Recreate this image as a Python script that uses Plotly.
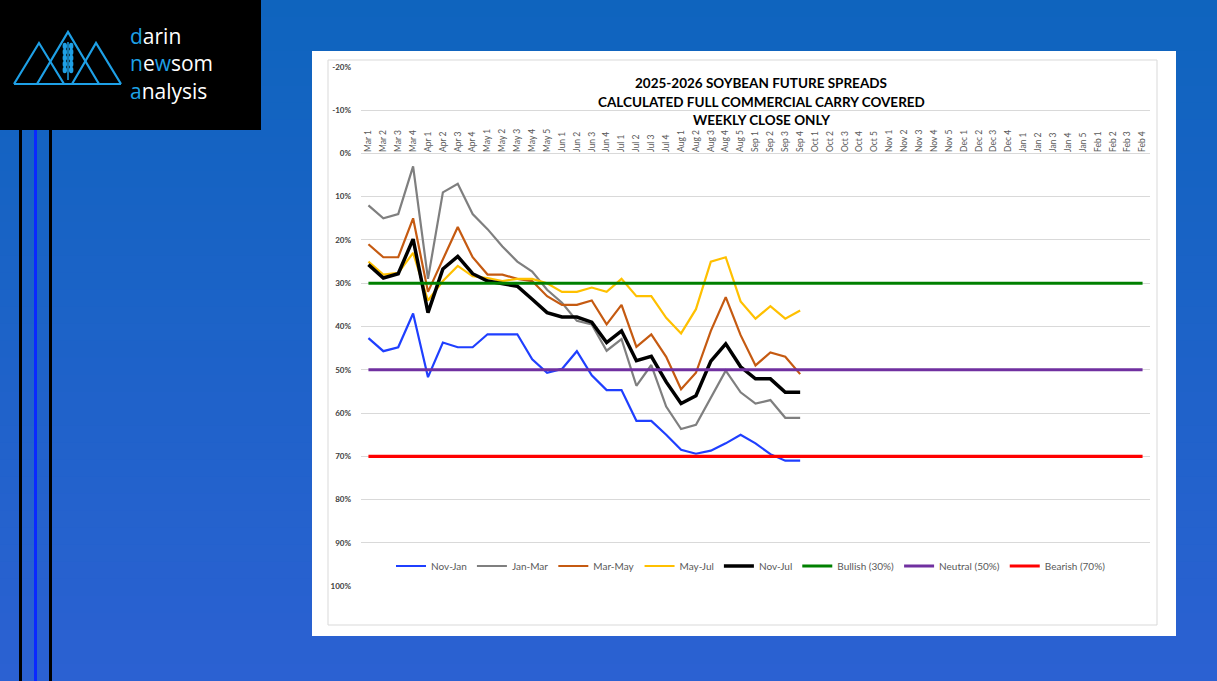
import plotly.graph_objects as go

# ---------------- data ----------------
weeks = ["Mar 1", "Mar 2", "Mar 3", "Mar 4", "Apr 1", "Apr 2", "Apr 3", "Apr 4",
         "May 1", "May 2", "May 3", "May 4", "May 5", "Jun 1", "Jun 2", "Jun 3", "Jun 4",
         "Jul 1", "Jul 2", "Jul 3", "Jul 4", "Aug 1", "Aug 2", "Aug 3", "Aug 4", "Aug 5",
         "Sep 1", "Sep 2", "Sep 3", "Sep 4", "Oct 1", "Oct 2", "Oct 3", "Oct 4", "Oct 5",
         "Nov 1", "Nov 2", "Nov 3", "Nov 4", "Nov 5", "Dec 1", "Dec 2", "Dec 3", "Dec 4",
         "Jan 1", "Jan 2", "Jan 3", "Jan 4", "Jan 5", "Feb 1", "Feb 2", "Feb 3", "Feb 4"]

nov_jan = [42.7, 45.7, 44.8, 37.0, 51.7, 43.7, 44.8, 44.8, 41.8, 41.8, 41.8, 47.6, 50.7,
           49.8, 45.7, 51.3, 54.7, 54.7, 61.8, 61.8, 65.0, 68.5, 69.4, 68.7, 67.0, 65.0,
           67.0, 69.5, 71.0, 71.0]
jan_mar = [12.0, 15.0, 14.0, 3.0, 29.0, 9.0, 7.0, 14.0, 17.5, 21.5, 25.0, 27.3, 31.5,
           34.5, 38.7, 39.5, 45.6, 42.9, 53.7, 48.9, 58.5, 63.7, 62.7, 56.3, 50.2, 55.2,
           57.8, 57.0, 61.1, 61.1]
mar_may = [21.0, 24.0, 24.0, 15.0, 32.0, 24.5, 17.0, 24.0, 28.0, 28.0, 29.0, 29.5, 33.0,
           35.0, 35.0, 34.0, 39.5, 35.0, 44.7, 41.8, 47.0, 54.5, 50.7, 41.0, 33.2, 42.0,
           49.0, 46.0, 47.0, 51.0]
may_jul = [25.0, 28.0, 27.6, 23.0, 34.0, 29.5, 26.0, 28.4, 28.8, 29.5, 29.0, 29.0, 30.0,
           32.0, 32.0, 31.0, 32.0, 29.0, 33.0, 33.0, 38.0, 41.6, 36.0, 25.0, 24.0, 34.2,
           38.2, 35.3, 38.2, 36.3]
nov_jul = [25.7, 28.8, 27.8, 19.8, 36.8, 26.7, 23.8, 27.8, 29.5, 30.0, 30.7, 33.7, 36.8,
           37.8, 37.8, 39.0, 43.7, 41.0, 47.9, 46.9, 52.8, 57.8, 56.0, 48.0, 44.0, 49.3,
           52.1, 52.1, 55.2, 55.2]

bullish_level = 30
neutral_level = 50
bearish_level = 70

y_ticks = [-20, -10, 0, 10, 20, 30, 40, 50, 60, 70, 80, 90, 100]

# ---------------- geometry helpers ----------------
W, H = 1217, 681
L, R, T, B = 361, 1150, 66, 587


def px(x):
    return (x - L) / (R - L)


def py(y):
    return (B - y) / (B - T)


fig = go.Figure()

series = [
    ("Nov-Jan", nov_jan, "#1F3FFF", 2.2),
    ("Jan-Mar", jan_mar, "#7F7F7F", 2.2),
    ("Mar-May", mar_may, "#C55A11", 2.2),
    ("May-Jul", may_jul, "#FFC000", 2.2),
    ("Nov-Jul", nov_jul, "#000000", 3.5),
]
for name, vals, col, w in series:
    fig.add_trace(go.Scatter(x=weeks[:len(vals)], y=vals, mode="lines", name=name,
                             line=dict(color=col, width=w), hoverinfo="x+y+name"))

levels = [
    ("Bullish (30%)", bullish_level, "#008000"),
    ("Neutral (50%)", neutral_level, "#7030A0"),
    ("Bearish (70%)", bearish_level, "#FF0000"),
]
for name, lv, col in levels:
    fig.add_trace(go.Scatter(x=weeks, y=[lv] * len(weeks), mode="lines", name=name,
                             line=dict(color=col, width=3.2)))

# ---------------- background shapes ----------------
shapes = []
top_c = (15, 100, 190)
bot_c = (43, 97, 210)
n = 40
for i in range(n):
    t = i / (n - 1)
    c = tuple(round(top_c[k] + (bot_c[k] - top_c[k]) * t) for k in range(3))
    y0 = H * i / n
    y1 = H * (i + 1) / n + 1
    shapes.append(dict(type="rect", xref="paper", yref="paper", x0=px(0), x1=px(W),
                       y0=py(y1), y1=py(y0), line=dict(width=0),
                       fillcolor="rgb(%d,%d,%d)" % c, layer="below"))
# white chart box
shapes.append(dict(type="rect", xref="paper", yref="paper", x0=px(312), x1=px(1176),
                   y0=py(636), y1=py(51), line=dict(width=0), fillcolor="white", layer="below"))
# excel chart area border
shapes.append(dict(type="rect", xref="paper", yref="paper", x0=px(328), x1=px(1157),
                   y0=py(625), y1=py(60), line=dict(width=1, color="#D9D9D9"),
                   fillcolor="rgba(0,0,0,0)", layer="below"))
# logo box
shapes.append(dict(type="rect", xref="paper", yref="paper", x0=px(0), x1=px(261),
                   y0=py(130), y1=py(0), line=dict(width=0), fillcolor="black", layer="below"))
# vertical decorative lines
for x0, x1, col in [(19, 22, "black"), (34, 37, "#0A28FF"), (49, 52, "black")]:
    shapes.append(dict(type="rect", xref="paper", yref="paper", x0=px(x0), x1=px(x1),
                       y0=py(681), y1=py(130), line=dict(width=0), fillcolor=col, layer="below"))

# logo mountains
logo_c = "#1EA0E6"


def path_pts(pts, close=False):
    s = "M " + " L ".join("%f,%f" % (px(a), py(b)) for a, b in pts)
    return s + (" Z" if close else "")


for tri in [[(14, 84), (39, 43), (64, 84)], [(37, 84), (68, 32), (99, 84)],
            [(72, 84), (96, 43), (121, 84)]]:
    shapes.append(dict(type="path", xref="paper", yref="paper", path=path_pts(tri),
                       line=dict(color=logo_c, width=2.2), layer="above"))
shapes.append(dict(type="path", xref="paper", yref="paper", path=path_pts([(14, 84), (121, 84)]),
                   line=dict(color=logo_c, width=2.2), layer="above"))
shapes.append(dict(type="path", xref="paper", yref="paper", path=path_pts([(68, 42), (68, 80)]),
                   line=dict(color=logo_c, width=1.5), layer="above"))
for yy in [46, 52, 58, 64, 70]:
    for dx in (-3.2, 3.2):
        shapes.append(dict(type="circle", xref="paper", yref="paper",
                           x0=px(68 + dx - 2.2), x1=px(68 + dx + 2.2),
                           y0=py(yy + 3.2), y1=py(yy - 3.2),
                           line=dict(width=0), fillcolor=logo_c, layer="above"))

# ---------------- annotations ----------------
B_ = "#1EA0E6"
annotations = []
title_lines = ["2025-2026 SOYBEAN FUTURE SPREADS", "CALCULATED FULL COMMERCIAL CARRY COVERED",
               "WEEKLY CLOSE ONLY"]
for i, tl in enumerate(title_lines):
    annotations.append(dict(text="<b>%s</b>" % tl, xref="paper", yref="paper",
                            x=px(761), y=py(83 + 18.5 * i), xanchor="center", yanchor="middle",
                            showarrow=False,
                            font=dict(family="Lato", size=13.5, color="black")))
logo_text = ("<span style='color:%s'>d</span>arin<br>"
             "<span style='color:%s'>n</span>e<span style='color:%s'>w</span>som<br>"
             "<span style='color:%s'>a</span>nalysis") % (B_, B_, B_, B_)
annotations.append(dict(text=logo_text, xref="paper", yref="paper", x=px(128), y=py(63),
                        xanchor="left", yanchor="middle", align="left", showarrow=False,
                        font=dict(family="Open Sans", size=21, color="white", weight=400)))

fig.update_layout(
    width=W, height=H,
    margin=dict(l=L, r=W - R, t=T, b=H - B, pad=0),
    paper_bgcolor="rgb(15,100,190)",
    plot_bgcolor="rgba(0,0,0,0)",
    shapes=shapes,
    annotations=annotations,
    showlegend=True,
    legend=dict(orientation="h", x=px(751), y=py(566), xanchor="center", yanchor="middle",
                bgcolor="rgba(0,0,0,0)", font=dict(family="Lato", size=10, color="#595959"),
                itemwidth=30, tracegroupgap=0),
    xaxis=dict(type="category", categoryorder="array", categoryarray=weeks,
               range=[-0.5, len(weeks) - 0.5], side="top", anchor="free", position=py(152),
               showgrid=False, showline=False, zeroline=False, ticks="",
               tickangle=-90, tickfont=dict(family="Lato", size=8.5, color="#595959")),
    yaxis=dict(range=[100.2, -20.2], tickvals=y_ticks, ticktext=["%d%%" % v for v in y_ticks],
               showgrid=True, gridcolor="#D9D9D9", gridwidth=1, zeroline=False, showline=False,
               ticks="", ticklabelstandoff=9,
               tickfont=dict(family="Lato", size=8, color="#404040", weight="bold")),
    hovermode="closest",
)

fig.write_html("out.html", config={"displayModeBar": False},
               post_script="document.body.style.margin='0';document.body.style.padding='0';"
                           "document.body.style.overflow='hidden';")
